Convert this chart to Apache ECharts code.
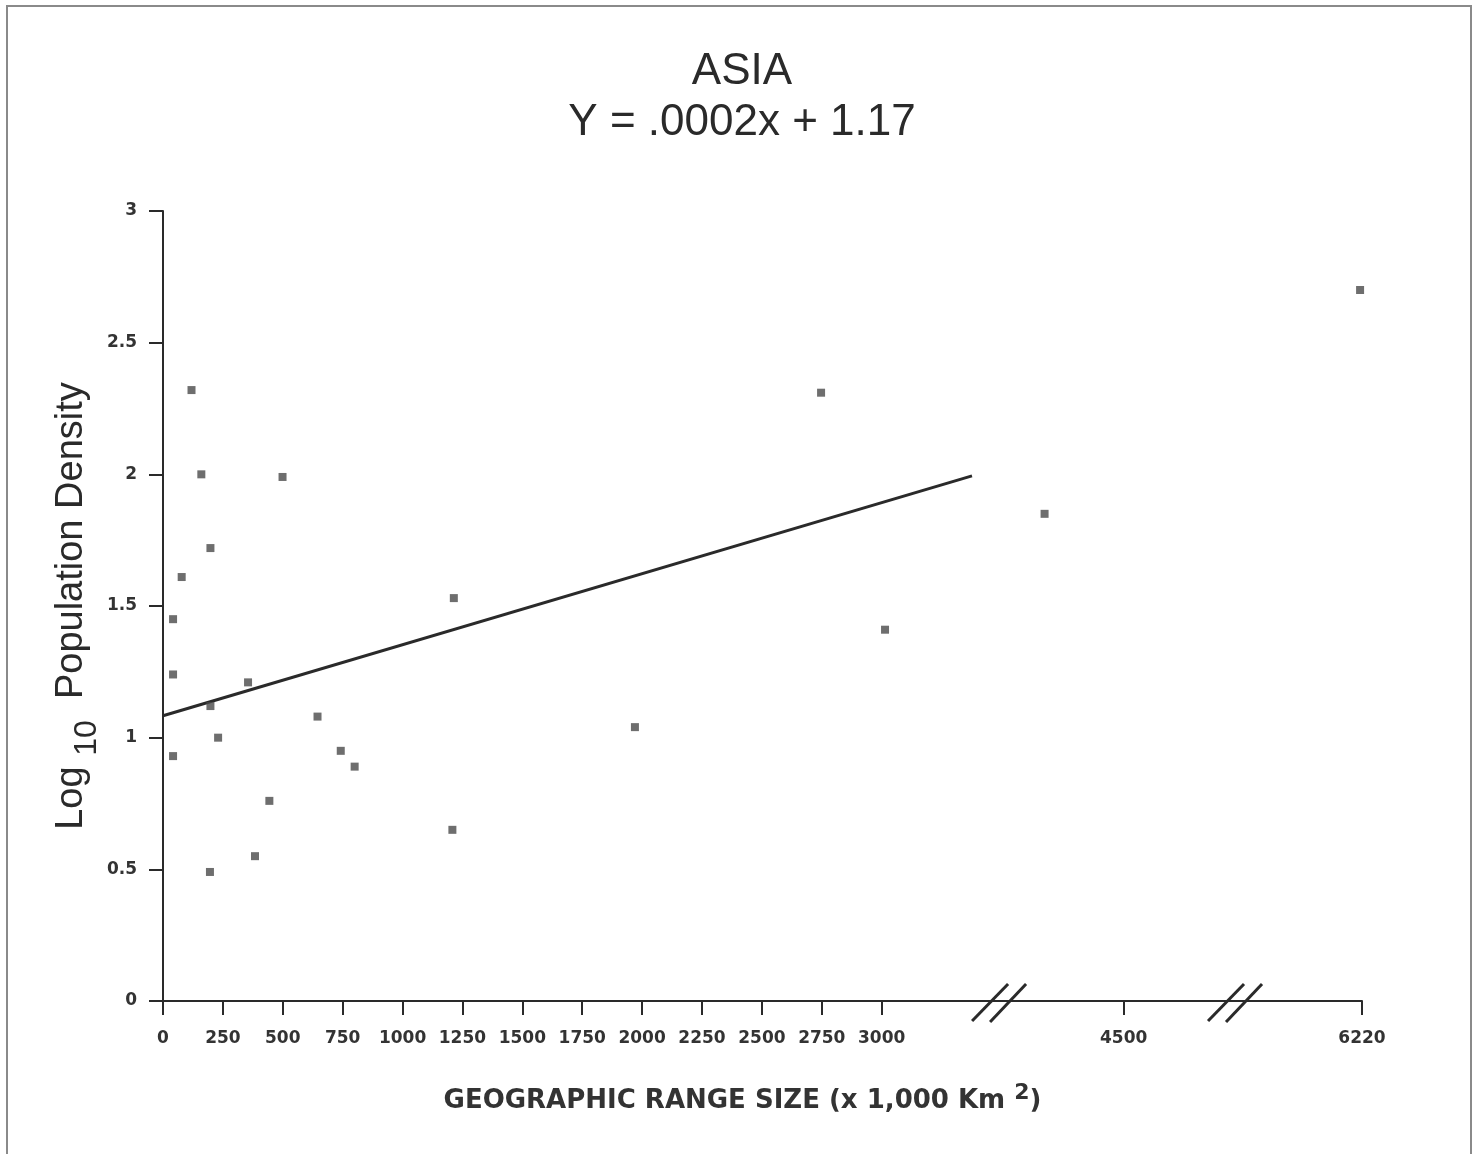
<!DOCTYPE html>
<html><head><meta charset="utf-8">
<script src="https://cdn.jsdelivr.net/npm/echarts@6/dist/echarts.min.js"></script>
<style>html,body{margin:0;padding:0;background:#fff}#c{width:1484px;height:1154px}</style>
</head><body><div id="c"></div>
<script>
// ---- data ----
const titleLines = ['ASIA', 'Y = .0002x + 1.17'];
const xValues = [119, 160, 499, 198, 78, 42, 42, 355, 198, 230, 42, 645, 742, 800, 444, 384, 196, 2747, 1214, 3014, 1970, 1208, 4170, 6212];
const yValues = [2.32, 2.00, 1.99, 1.72, 1.61, 1.45, 1.24, 1.21, 1.12, 1.00, 0.93, 1.08, 0.95, 0.89, 0.76, 0.55, 0.49, 2.31, 1.53, 1.41, 1.04, 0.65, 1.85, 2.70];
const fitX = [0, 3377];
const fitY = [1.083, 1.994];
const xTickValues = [0, 250, 500, 750, 1000, 1250, 1500, 1750, 2000, 2250, 2500, 2750, 3000, 4500, 6220];
const xTickLabels = ['0', '250', '500', '750', '1000', '1250', '1500', '1750', '2000', '2250', '2500', '2750', '3000', '4500', '6220'];
const yTickLabels = ['0', '0.5', '1', '1.5', '2', '2.5', '3'];
// broken x axis: the real ranges that are shown, in order
const xSegments = [[0, 3490], [3980, 4965], [5690, 6220]];

function toAxis(v) {
  let off = 0;
  for (let i = 0; i < xSegments.length; i++) {
    const a = xSegments[i][0], b = xSegments[i][1];
    if (v <= b || i === xSegments.length - 1) return off + (v - a);
    off += b - a;
  }
}
const axisMax = xSegments.reduce((s, g) => s + g[1] - g[0], 0);
const breakAt = [];
{ let off = 0; for (let i = 0; i < xSegments.length - 1; i++) { off += xSegments[i][1] - xSegments[i][0]; breakAt.push(off); } }

const tickAxisVals = xTickValues.map(toAxis);
const labelMap = {};
tickAxisVals.forEach((v, i) => { labelMap[v] = xTickLabels[i]; });

const chart = echarts.init(document.getElementById('c'));
const ink = '#2a2a2a';
chart.setOption({
  backgroundColor: '#ffffff',
  animation: false,
  title: {
    text: titleLines.join('\n'),
    left: 'center',
    top: 41,
    textStyle: { fontFamily: 'Liberation Sans', fontSize: 44, fontWeight: 'normal', color: ink, lineHeight: 51 }
  },
  grid: { left: 163, right: 122, top: 211, bottom: 153, containLabel: false },
  xAxis: {
    type: 'value', min: 0, max: axisMax,
    axisLine: { show: true, lineStyle: { color: ink, width: 2 } },
    axisTick: { show: true, length: 14, customValues: tickAxisVals, lineStyle: { color: ink, width: 2 } },
    axisLabel: {
      customValues: tickAxisVals, margin: 29,
      formatter: v => labelMap[v] !== undefined ? labelMap[v] : '',
      fontFamily: 'DejaVu Sans', fontWeight: 'bold', fontSize: 17, color: '#333'
    },
    splitLine: { show: false },
    name: 'GEOGRAPHIC RANGE SIZE (x 1,000 Km {sup|2})',
    nameLocation: 'middle', nameGap: 81,
    nameTextStyle: {
      fontFamily: 'DejaVu Sans', fontWeight: 'bold', fontSize: 26, color: '#333', padding: [0, 40, 0, 0],
      rich: { sup: { fontFamily: 'DejaVu Sans', fontWeight: 'bold', fontSize: 22, color: '#333', padding: [0, 0, 16, 0] } }
    }
  },
  yAxis: {
    type: 'value', min: 0, max: 3, interval: 0.5,
    axisLine: { show: true, lineStyle: { color: ink, width: 2 } },
    axisTick: { show: true, length: 14, lineStyle: { color: ink, width: 2 } },
    axisLabel: {
      margin: 26, formatter: (v) => yTickLabels[Math.round(v / 0.5)],
      fontFamily: 'DejaVu Sans', fontWeight: 'bold', fontSize: 17, color: '#333'
    },
    splitLine: { show: false },
    name: 'Log {sub|10}  Population Density',
    nameLocation: 'middle', nameGap: 60, nameMoveOverlap: false,
    nameTextStyle: {
      fontFamily: 'Liberation Sans', fontSize: 38, color: ink,
      rich: { sub: { fontFamily: 'Liberation Sans', fontSize: 32, color: ink, padding: [30, 0, 0, 0] } }
    }
  },
  series: [
    {
      type: 'scatter', symbol: 'rect', symbolSize: 8,
      itemStyle: { color: '#4a4a4a' },
      data: xValues.map((x, i) => [toAxis(x), yValues[i]]),
      z: 3
    },
    {
      type: 'line', showSymbol: false, symbol: 'none',
      lineStyle: { color: ink, width: 3 },
      data: fitX.map((x, i) => [toAxis(x), fitY[i]]),
      z: 2
    }
  ]
});

// decorations: frame and axis break marks
const y0 = chart.convertToPixel({ yAxisIndex: 0 }, 0);
const g = [{
  type: 'polyline', shape: { points: [[7, 1154], [7, 6], [1471, 6], [1471, 1154]] },
  style: { stroke: '#8a8a8a', lineWidth: 2, fill: null }
}];
breakAt.forEach(b => {
  const cx = chart.convertToPixel({ xAxisIndex: 0 }, b);
  g.push({ type: 'line', shape: { x1: cx - 27, y1: y0 + 20, x2: cx + 9, y2: y0 - 17 }, style: { stroke: ink, lineWidth: 3 } });
  g.push({ type: 'line', shape: { x1: cx - 9, y1: y0 + 21, x2: cx + 27, y2: y0 - 17 }, style: { stroke: ink, lineWidth: 3 } });
});
chart.setOption({ graphic: g });
</script>
</body></html>
